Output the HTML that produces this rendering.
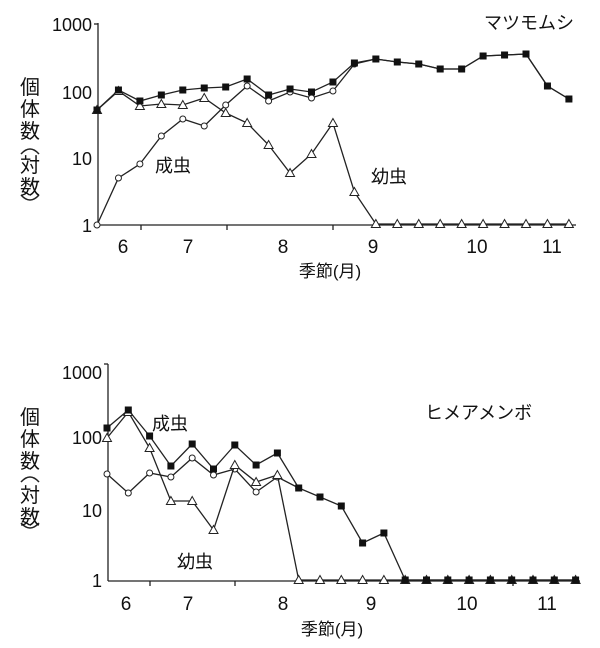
<!DOCTYPE html>
<html><head><meta charset="utf-8"><style>
html,body{margin:0;padding:0;background:#fff;}
svg text{font-family:"Liberation Sans","Noto Sans CJK JP",sans-serif;fill:#111;}
</style></head><body>
<svg id="s" width="600" height="643" viewBox="0 0 600 643" xmlns="http://www.w3.org/2000/svg">
<g stroke="#222" stroke-width="1.3" fill="none">
<line x1="98" y1="23" x2="98" y2="225"/><line x1="98" y1="225" x2="576" y2="225"/>
<line x1="94" y1="24" x2="98" y2="24"/>
<line x1="141" y1="225" x2="141" y2="230"/><line x1="227" y1="225" x2="227" y2="230"/><line x1="333" y1="225" x2="333" y2="230"/>
<line x1="108" y1="364" x2="108" y2="581"/><line x1="108" y1="581" x2="580" y2="581"/>
<line x1="104" y1="364" x2="108" y2="364"/>
<line x1="150" y1="581" x2="150" y2="586"/><line x1="235" y1="581" x2="235" y2="586"/><line x1="513" y1="581" x2="513" y2="586"/>
<path d="M21 154 Q30 144 39 154" stroke-width="1.5"/>
<path d="M21 195 Q30 205 39 195" stroke-width="1.5"/>
<path d="M21 482 Q30 472 39 482" stroke-width="1.5"/>
<path d="M21 523 Q30 533 39 523" stroke-width="1.5"/>
</g>
<g font-size="18" text-anchor="end">
<text x="92" y="31">1000</text><text x="92" y="99">100</text><text x="92" y="165">10</text><text x="92" y="232">1</text>
<text x="102" y="379">1000</text><text x="102" y="444">100</text><text x="102" y="517">10</text><text x="102" y="587">1</text>
</g>
<g font-size="19" text-anchor="middle">
<text x="123" y="253">6</text><text x="188" y="253">7</text><text x="283" y="253">8</text><text x="373" y="253">9</text><text x="477" y="253">10</text><text x="552" y="253">11</text>
<text x="126" y="610">6</text><text x="188" y="610">7</text><text x="283" y="610">8</text><text x="371" y="610">9</text><text x="467" y="610">10</text><text x="547" y="610">11</text>
<text x="330" y="277" font-size="17">季節(月)</text>
<text x="332" y="635" font-size="17">季節(月)</text>
</g>
<g font-size="20" text-anchor="middle">
<text x="30" y="94">個</text><text x="30" y="116">体</text><text x="30" y="138">数</text>
<text x="30" y="172">対</text><text x="30" y="194">数</text>
<text x="30" y="424">個</text><text x="30" y="446">体</text><text x="30" y="468">数</text>
<text x="30" y="502">対</text><text x="30" y="524">数</text>
</g>
<g font-size="18">
<text x="155" y="172">成虫</text><text x="371" y="183">幼虫</text><text x="484" y="29">マツモムシ</text>
<text x="152" y="430">成虫</text><text x="177" y="568">幼虫</text><text x="425" y="419">ヒメアメンボ</text>
</g>
<g id="d"></g>
</svg>
<script>
var ns="http://www.w3.org/2000/svg",g=document.getElementById('d');
function el(t,a){var e=document.createElementNS(ns,t);for(var k in a)e.setAttribute(k,a[k]);g.appendChild(e);}
function xs(x0,dx,n){var r=[];for(var i=0;i<n;i++)r.push(x0+dx*i);return r;}
function series(X,Y,m){var p=[];for(var i=0;i<Y.length;i++)p.push(X[i]+','+Y[i]);
 el('polyline',{points:p.join(' '),fill:'none',stroke:'#222','stroke-width':1.3});
 for(var i=0;i<Y.length;i++){var x=X[i],y=Y[i];
  if(m=='s')el('rect',{x:x-3.5,y:y-3.5,width:7,height:7,fill:'#111'});
  else if(m=='c')el('circle',{cx:x,cy:y,r:3,fill:'#fff',stroke:'#222','stroke-width':1});
  else el('polygon',{points:(x)+','+(y-4.5)+' '+(x-4.5)+','+(y+3.5)+' '+(x+4.5)+','+(y+3.5),fill:'#fff',stroke:'#222','stroke-width':1});}}
var X1=xs(97,21.45,23);
var sq1=[110,90,101,95,90,88,87,79,95,89,92,82,63,59,62,64,69,69,56,55,54,86,99];
var ci1=[225,178,164,136,119,126,105,86,101,92,98,91,64,59,62,64,69,69,56,55,54,86,99];
var tr1=[110,91,106,104,105,98,113,123,145,173,154,123,192,224,224,224,224,224,224,224,224,224,224];
series(X1,tr1,'t');series(X1,ci1,'c');series(X1,sq1,'s');
var X2=xs(107,21.3,23);
var sq2=[428,410,436,466,444,469,445,465,453,488,497,506,543,533,580,580,580,580,580,580,580,580,580];
var ci2=[474,493,473,477,458,475,469,492,477,488];
var tr2=[438,412,448,501,501,530,465,482,475,580,580,580,580,580,580,580,580,580,580,580,580,580,580];
series(X2,ci2,'c');series(X2,tr2,'t');series(X2,sq2,'s');
</script>
</body></html>
